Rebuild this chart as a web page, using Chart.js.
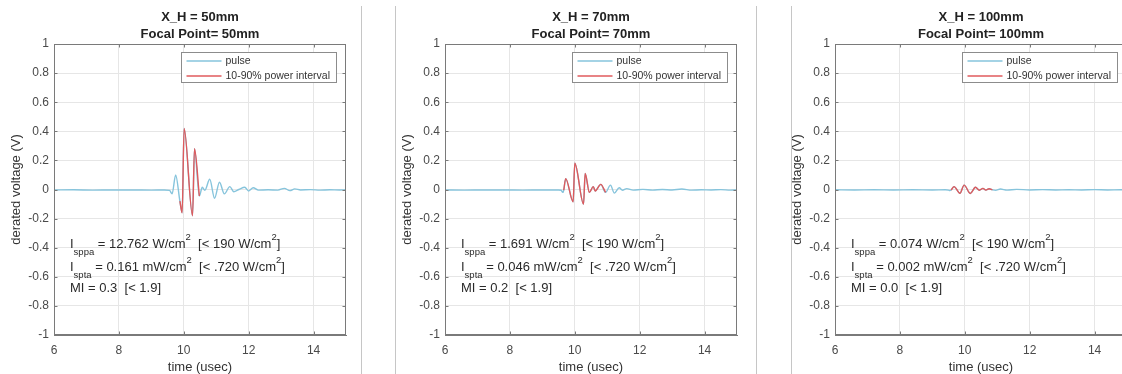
<!DOCTYPE html>
<html>
<head>
<meta charset="utf-8">
<script src="https://cdn.jsdelivr.net/npm/chart.js@4.4.1/dist/chart.umd.min.js"></script>
<style>
  html, body { margin: 0; padding: 0; background: #fff; overflow: hidden; }
  #wrap { position: relative; width: 1122px; height: 374px; overflow: hidden; }
  canvas { position: absolute; top: 0; }
  .sep { position: absolute; top: 6px; width: 1px; height: 368px; background: #c6c6c6; }
</style>
</head>
<body>
<div id="wrap">
  <canvas id="c50" width="361" height="374" style="left:0px"></canvas>
  <canvas id="c70" width="361" height="374" style="left:391px"></canvas>
  <canvas id="c100" width="361" height="374" style="left:781px"></canvas>
  <div class="sep" style="left:361px"></div>
  <div class="sep" style="left:395px"></div>
  <div class="sep" style="left:756px"></div>
  <div class="sep" style="left:791px"></div>
</div>
<script>
const timeTicks = [6, 8, 10, 12, 14];
const voltTicks = [-1, -0.8, -0.6, -0.4, -0.2, 0, 0.2, 0.4, 0.6, 0.8, 1];

const focalMm = [50, 70, 100];
const sppaValues = ['12.762', '1.691', '0.074'];
const sptaValues = ['0.161', '0.046', '0.002'];
const miValues = ['0.3', '0.2', '0.0'];

// pulse traces (time in usec, derated voltage in V)
const time50 = [6, 6.6, 7.2, 7.8, 8.4, 9.0, 9.4, 9.56, 9.64, 9.75, 9.88, 9.95, 10.01, 10.27, 10.33, 10.48,
  10.57, 10.65, 10.8, 10.95, 11.1, 11.25, 11.42, 11.54, 11.7, 11.88, 12.0, 12.14, 12.3, 12.6, 12.9,
  13.1, 13.27, 13.42, 13.6, 13.9, 14.2, 14.5, 14.8, 15];
const volt50 = [-0.003, -0.002, -0.004, -0.003, -0.003, -0.004, -0.003, -0.006, -0.03, 0.10, -0.08, -0.16, 0.42, -0.18, 0.28, -0.045,
  0.015, -0.005, 0.07, -0.06, 0.05, -0.03, 0.02, -0.015, 0.0, 0.015, -0.01, 0.012, -0.004, -0.002, -0.004,
  0.008, -0.008, 0.004, -0.003, -0.001, -0.004, -0.002, -0.003, -0.002];
const interval50 = [9.88, 10.48];

const time70 = [6, 6.6, 7.2, 7.8, 8.4, 9.0, 9.5, 9.58, 9.63, 9.66, 9.72, 9.95, 10.0, 10.27, 10.32, 10.45,
  10.57, 10.63, 10.8, 10.95, 11.1, 11.22, 11.37, 11.47, 11.6, 11.8, 12.1, 12.4, 12.7, 13.0, 13.3,
  13.6, 13.9, 14.2, 14.5, 14.8, 15];
const volt70 = [-0.003, -0.004, -0.003, -0.003, -0.004, -0.003, -0.003, -0.005, -0.02, -0.005, 0.075, -0.085, 0.18, -0.1, 0.11, -0.02,
  0.02, -0.01, 0.035, -0.02, 0.03, -0.025, 0.012, -0.005, 0.006, -0.004, 0.001, -0.004, 0.0, -0.003, 0.003,
  -0.004, -0.002, -0.003, -0.001, -0.004, -0.003];
const interval70 = [9.66, 10.95];

const time100 = [6, 6.6, 7.2, 7.8, 8.4, 9.0, 9.4, 9.5, 9.54, 9.58, 9.67, 9.85, 9.98, 10.17, 10.33, 10.45,
  10.56, 10.65, 10.75, 10.85, 10.95, 11.1, 11.3, 11.6, 12.0, 12.4, 12.8, 13.2, 13.6, 14.0, 14.4, 14.8, 15];
const volt100 = [-0.002, -0.003, -0.002, -0.003, -0.002, -0.003, -0.002, -0.004, -0.007, -0.003, 0.02, -0.026, 0.03, -0.027, 0.015, -0.005,
  0.008, -0.004, 0.005, -0.002, -0.006, 0.003, -0.004, 0.001, -0.003, -0.001, -0.003, -0.002, -0.003, -0.001, -0.003, -0.002, -0.002];
const interval100 = [9.58, 10.85];

const panelTimes = [time50, time70, time100];
const panelVolts = [volt50, volt70, volt100];
const powerIntervals = [interval50, interval70, interval100];

const FONT = '"Liberation Sans", Arial, Helvetica, sans-serif';
const pulseColor = '#86c4dc';
const powerColor = '#e05a5c';
const axisColor = '#7a7a7a';
const gridColor = '#e6e6e6';
const tickColor = '#4a4a4a';

function drawRich(ctx, x, y, parts) {
  parts.forEach(([txt, kind]) => {
    const small = kind === 'sub' || kind === 'sup';
    ctx.font = (small ? '9.5px ' : '13px ') + FONT;
    const dy = kind === 'sub' ? 8 : kind === 'sup' ? -7 : 0;
    ctx.fillText(txt, x, y + dy);
    x += ctx.measureText(txt).width;
  });
}

const panelDecor = {
  id: 'panelDecor',
  afterDraw(chart, args, opts) {
    const { ctx, chartArea: a, scales: { x, y } } = chart;
    ctx.save();

    // full box and inward tick marks
    const L = Math.round(a.left) + 0.5, R = Math.round(a.right) - 0.5;
    const T = Math.round(a.top) + 0.5, B = Math.round(a.bottom) - 0.5;
    ctx.strokeStyle = axisColor;
    ctx.lineWidth = 1;
    ctx.strokeRect(L, T, R - L, B - T);
    ctx.beginPath();
    timeTicks.forEach(v => {
      const px = Math.round(x.getPixelForValue(v)) + 0.5;
      ctx.moveTo(px, B); ctx.lineTo(px, B - 3);
      ctx.moveTo(px, T); ctx.lineTo(px, T + 3);
    });
    voltTicks.forEach(v => {
      const py = Math.round(y.getPixelForValue(v)) + 0.5;
      ctx.moveTo(L, py); ctx.lineTo(L + 3, py);
      ctx.moveTo(R, py); ctx.lineTo(R - 3, py);
    });
    ctx.stroke();

    // title
    const cx = (a.left + a.right) / 2;
    ctx.fillStyle = '#222';
    ctx.textAlign = 'center';
    ctx.textBaseline = 'middle';
    ctx.font = 'bold 13px ' + FONT;
    opts.title.forEach((line, i) => ctx.fillText(line, cx, 17 + i * 17));

    // legend
    const bx = Math.round(a.right) - 164.5, by = Math.round(a.top) + 8.5;
    ctx.fillStyle = '#fff';
    ctx.fillRect(bx, by, 155, 30);
    ctx.strokeStyle = '#8c8c8c';
    ctx.strokeRect(bx, by, 155, 30);
    ctx.textAlign = 'left';
    ctx.font = '10.5px ' + FONT;
    chart.data.datasets.forEach((ds, i) => {
      const ly = by + 8.5 + i * 15;
      ctx.strokeStyle = ds.borderColor;
      ctx.lineWidth = 1.3;
      ctx.beginPath();
      ctx.moveTo(bx + 5, ly); ctx.lineTo(bx + 40, ly);
      ctx.stroke();
      ctx.fillStyle = '#333';
      ctx.fillText(ds.label, bx + 44, ly);
    });

    // acoustic output notes
    ctx.fillStyle = '#2a2a2a';
    ctx.textAlign = 'left';
    opts.notes.forEach((parts, i) => drawRich(ctx, a.left + 16, a.top + 200 + [0, 23, 44][i], parts));
    ctx.restore();
  }
};

function buildPanel(id, k) {
  const pulse = panelTimes[k].map((t, i) => ({ x: t, y: panelVolts[k][i] }));
  const [t0, t1] = powerIntervals[k];
  const power = pulse.filter(p => p.x >= t0 && p.x <= t1);
  const mm = focalMm[k];

  new Chart(document.getElementById(id), {
    type: 'line',
    data: {
      datasets: [
        { label: 'pulse', data: pulse, borderColor: pulseColor, borderWidth: 1.4, order: 2,
          pointRadius: 0, cubicInterpolationMode: 'monotone' },
        { label: '10-90% power interval', data: power, borderColor: powerColor, borderWidth: 1.4, order: 1,
          pointRadius: 0, cubicInterpolationMode: 'monotone' }
      ]
    },
    options: {
      responsive: false,
      animation: false,
      devicePixelRatio: 1,
      layout: { padding: { top: 44, right: 15, bottom: 0, left: 0 } },
      plugins: {
        legend: { display: false },
        tooltip: { enabled: false },
        panelDecor: {
          title: [`X_H = ${mm}mm`, `Focal Point= ${mm}mm`],
          notes: [
            [['I'], ['sppa', 'sub'], [` = ${sppaValues[k]} W/cm`], ['2', 'sup'], ['  [< 190 W/cm'], ['2', 'sup'], [']']],
            [['I'], ['spta', 'sub'], [` = ${sptaValues[k]} mW/cm`], ['2', 'sup'], ['  [< .720 W/cm'], ['2', 'sup'], [']']],
            [[`MI = ${miValues[k]}  [< 1.9]`]]
          ]
        }
      },
      scales: {
        x: {
          type: 'linear', min: 6, max: 15,
          afterBuildTicks: s => { s.ticks = timeTicks.map(v => ({ value: v })); },
          afterFit: s => { s.height = 39; },
          ticks: { color: tickColor, font: { family: FONT, size: 12 }, padding: 8, maxRotation: 0,
            callback: v => String(v) },
          grid: { color: gridColor, drawTicks: false },
          border: { color: axisColor },
          title: { display: true, text: 'time (usec)', color: '#333',
            font: { family: FONT, size: 13 }, padding: { top: 0, bottom: -1 } }
        },
        y: {
          type: 'linear', min: -1, max: 1,
          afterBuildTicks: s => { s.ticks = voltTicks.map(v => ({ value: v })); },
          afterFit: s => { s.width = 54; },
          ticks: { color: tickColor, font: { family: FONT, size: 12 }, padding: 5,
            callback: v => String(v) },
          grid: { color: gridColor, drawTicks: false },
          border: { color: axisColor },
          title: { display: true, text: 'derated voltage (V)', color: '#333',
            font: { family: FONT, size: 13 }, padding: { top: 9, bottom: 0 } }
        }
      }
    },
    plugins: [panelDecor]
  });
}

buildPanel('c50', 0);
buildPanel('c70', 1);
buildPanel('c100', 2);
</script>
</body>
</html>
